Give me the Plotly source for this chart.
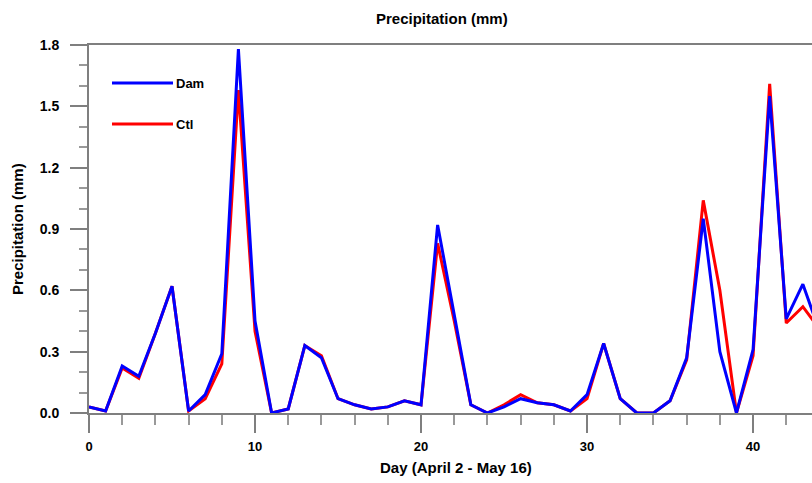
import plotly.graph_objects as go

days = list(range(45))
dam = [0.03, 0.01, 0.23, 0.18, 0.39, 0.62, 0.01, 0.09, 0.29, 1.78,
       0.45, 0.00, 0.02, 0.33, 0.27, 0.07, 0.04, 0.02, 0.03, 0.06,
       0.04, 0.92, 0.48, 0.04, 0.00, 0.03, 0.07, 0.05, 0.04, 0.01,
       0.09, 0.34, 0.07, 0.00, 0.00, 0.06, 0.27, 0.95, 0.30, 0.00,
       0.31, 1.55, 0.46, 0.63, 0.40]
ctl = [0.03, 0.01, 0.22, 0.17, 0.39, 0.62, 0.01, 0.07, 0.24, 1.58,
       0.40, 0.00, 0.02, 0.33, 0.28, 0.07, 0.04, 0.02, 0.03, 0.06,
       0.04, 0.83, 0.45, 0.04, 0.00, 0.04, 0.09, 0.05, 0.04, 0.01,
       0.07, 0.34, 0.07, 0.00, 0.00, 0.06, 0.26, 1.04, 0.60, 0.00,
       0.28, 1.61, 0.44, 0.52, 0.41]
y_ticks = [0.0, 0.3, 0.6, 0.9, 1.2, 1.5, 1.8]
x_ticks = [0, 10, 20, 30, 40]

FONT = "Liberation Sans, Arial, Helvetica, sans-serif"
AXC = "#7f7f7f"

fig = go.Figure()
fig.add_trace(go.Scatter(x=days, y=ctl, mode="lines", name="Ctl",
                         line=dict(color="#ff0000", width=3), showlegend=False))
fig.add_trace(go.Scatter(x=days, y=dam, mode="lines", name="Dam",
                         line=dict(color="#0000ff", width=3), showlegend=False))

fig.update_layout(
    width=812, height=483,
    margin=dict(l=89, r=0, t=45, b=70),
    paper_bgcolor="white", plot_bgcolor="white",
    font=dict(family=FONT, color="black", weight="bold"),
    xaxis=dict(range=[0, 43.55], tickvals=x_ticks, ticktext=[str(v) for v in x_ticks],
               ticks="outside", ticklen=18, tickwidth=2, tickcolor=AXC,
               showline=True, linecolor=AXC, linewidth=2, mirror=True,
               showgrid=False, zeroline=False,
               tickfont=dict(size=13, family=FONT, weight="bold"),
               ticklabelstandoff=2,
               minor=dict(dtick=2, tick0=0, ticks="outside", ticklen=10, tickwidth=1.5,
                          tickcolor="#999999", showgrid=False)),
    yaxis=dict(range=[0, 1.8], tickvals=y_ticks, ticktext=[f"{v:.1f}" for v in y_ticks],
               ticks="outside", ticklen=17, tickwidth=2, tickcolor=AXC,
               showline=True, linecolor=AXC, linewidth=2, mirror=False,
               showgrid=False, zeroline=False,
               tickfont=dict(size=14, family=FONT, weight="bold"),
               ticklabelstandoff=8,
               minor=dict(dtick=0.1, tick0=0, ticks="outside", ticklen=8, tickwidth=1.5,
                          tickcolor="#999999", showgrid=False)),
)

# titles
fig.add_annotation(text="Precipitation (mm)", xref="paper", yref="paper",
                   x=(442 - 89) / 723, y=1, yshift=27, xanchor="center", yanchor="middle",
                   showarrow=False, font=dict(size=15, family=FONT, weight="bold"))
fig.add_annotation(text="Day (April 2 - May 16)", xref="paper", yref="paper",
                   x=(456 - 89) / 723, y=0, yshift=-54, xanchor="center", yanchor="middle",
                   showarrow=False, font=dict(size=15, family=FONT, weight="bold"))
fig.add_annotation(text="Precipitation (mm)", xref="paper", yref="paper",
                   x=0, xshift=-72, y=0.5, textangle=-90, xanchor="center", yanchor="middle",
                   showarrow=False, font=dict(size=15, family=FONT, weight="bold"))

# legend
legend_items = [("Dam", "#0000ff", 83), ("Ctl", "#ff0000", 124)]
for name, col, ypx in legend_items:
    yp = 1 - (ypx - 45) / 368
    fig.add_shape(type="line", xref="paper", yref="paper",
                  x0=(112 - 89) / 723, x1=(173 - 89) / 723, y0=yp, y1=yp,
                  line=dict(color=col, width=3))
    fig.add_annotation(text=name, xref="paper", yref="paper",
                       x=(174 - 89) / 723, y=yp, xanchor="left", yanchor="middle",
                       showarrow=False, font=dict(size=13, family=FONT, weight="bold"))

fig.write_html("out.html")
